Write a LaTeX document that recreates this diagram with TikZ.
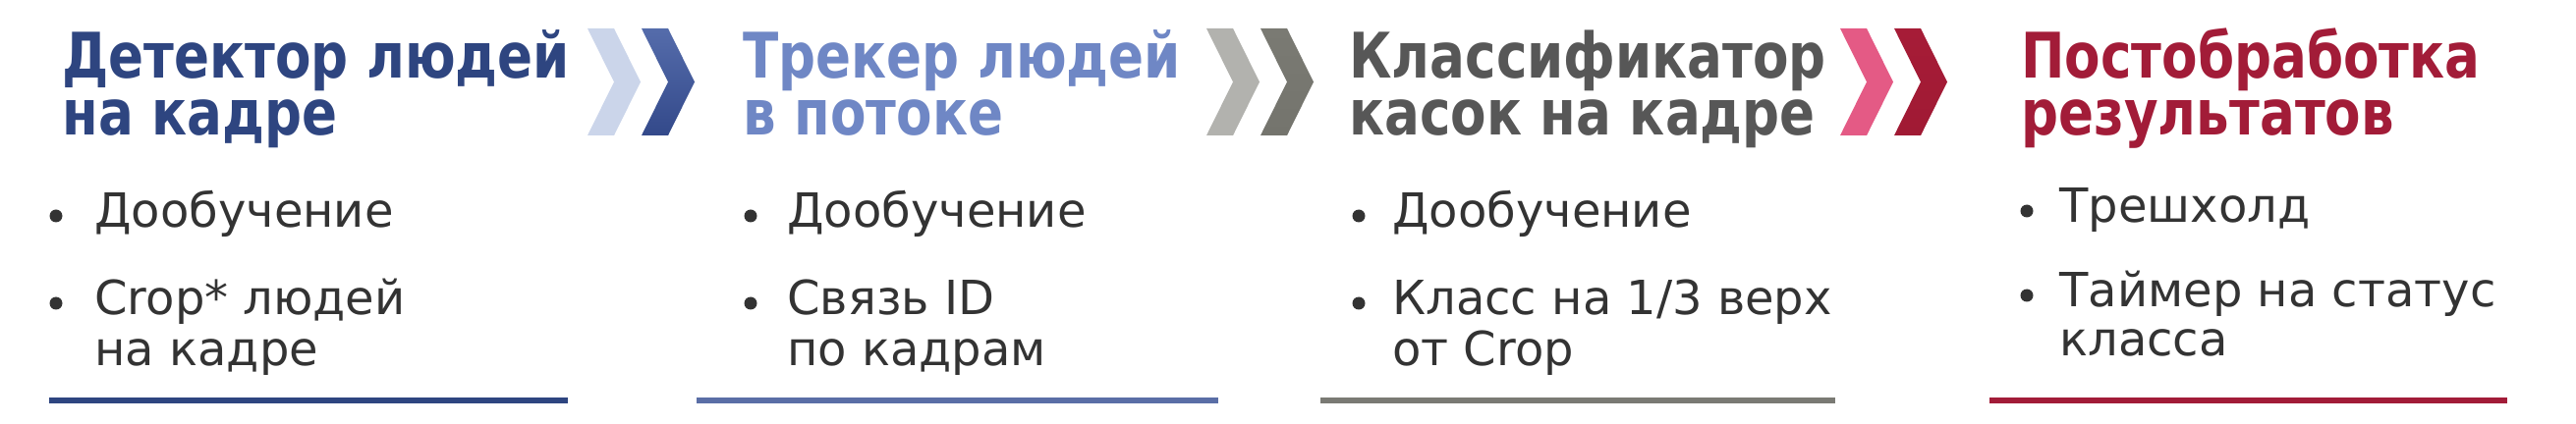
\documentclass[tikz,border=0pt]{standalone}
\usepackage{fontspec}
\setmainfont{DejaVu Sans}
\newfontfamily\headfont{DejaVu Sans}[FakeStretch=0.83]
\usepackage{xcolor}

\definecolor{navy}{HTML}{2E4580}
\definecolor{blueline}{HTML}{5A6EA6}
\definecolor{bluehead}{HTML}{6F87C5}
\definecolor{greyhead}{HTML}{575757}
\definecolor{greyline}{HTML}{7A7A74}
\definecolor{redhead}{HTML}{A21C38}
\definecolor{txt}{HTML}{333333}

\begin{document}
\begin{tikzpicture}
  [x=0.5pt,y=-0.5pt,every node/.style={inner sep=0pt,anchor=base west}]
 \tikzset{head/.style={font=\headfont\bfseries\fontsize{32}{38}\selectfont},
   item/.style={font=\fontsize{24}{30}\selectfont,text=txt}}

 \useasboundingbox (0,0) rectangle (2622,432);

 % chevrons between the steps
 \foreach \x/\ca/\cb/\cc in {598/CBD5EA/556CAB/33498A,1228/B2B2AE/7A7A73/74746D,1873/E45A85/A61C37/A01A34}{
   \definecolor{ca}{HTML}{\ca}\definecolor{cb}{HTML}{\cb}\definecolor{cc}{HTML}{\cc}
   \fill[ca] (\x,29) -- ++(27,0) -- ++(27,54.5) -- ++(-27,54.5) -- ++(-27,0) -- ++(27,-54.5) -- cycle;
   \shade[top color=cb,bottom color=cc] (\x+55,29) -- ++(27,0) -- ++(27,54.5) -- ++(-27,54.5) -- ++(-27,0) -- ++(27,-54.5) -- cycle;
 }

 % headers
 \node[head,text=navy] (t1a) at (63,80) {Детектор людей};
 \node[head,text=navy] (t1b) at (63,138) {на кадре};
 \node[head,text=bluehead] (t2a) at (756,80) {Трекер людей};
 \node[head,text=bluehead] (t2b) at (756,138) {в потоке};
 \node[head,text=greyhead] (t3a) at (1373,80) {Классификатор};
 \node[head,text=greyhead] (t3b) at (1373,138) {касок на кадре};
 \node[head,text=redhead] (t4a) at (2057,80) {Постобработка};
 \node[head,text=redhead] (t4b) at (2057,138) {результатов};

 % bullet items
 \node[item] (b1a) at (96,232) {Дообучение};
 \node[item] (b1b) at (96,321) {Crop* людей};
 \node[item] (b1c) at (96,372) {на кадре};
 \node[item] (b2a) at (801,232) {Дообучение};
 \node[item] (b2b) at (801,321) {Связь ID};
 \node[item] (b2c) at (801,372) {по кадрам};
 \node[item] (b3a) at (1417,232) {Дообучение};
 \node[item] (b3b) at (1417,321) {Класс на 1/3 верх};
 \node[item] (b3c) at (1417,372) {от Crop};
 \node[item] (b4a) at (2096,227) {Трешхолд};
 \node[item] (b4b) at (2096,313) {Таймер на статус};
 \node[item] (b4c) at (2096,363) {класса};

 \foreach \x/\y in {57/220,57/309,764/220,764/309,1383/220,1383/309,2063/215,2063/301}
   \fill[txt] (\x,\y) circle (6.5);

 % underlines
 \foreach \a/\b/\c in {50/578/navy,709/1240/blueline,1344/1868/greyline,2025/2552/redhead}
   \draw[\c,line width=3pt] (\a,408) -- (\b,408);

\end{tikzpicture}
\end{document}
